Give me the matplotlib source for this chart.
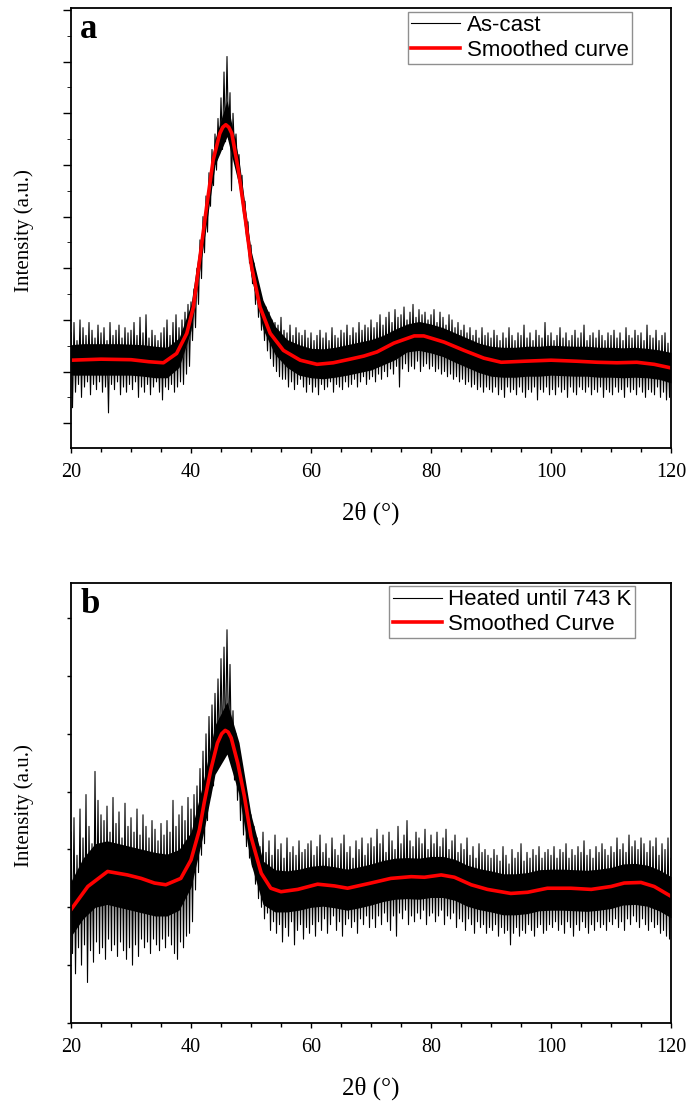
import numpy as np
import matplotlib.pyplot as plt
from matplotlib.ticker import MultipleLocator

plt.rcParams["font.family"] = ["Liberation Serif", "DejaVu Serif"]

# 2theta grids (deg): spike tops every 0.5 deg, spike bottoms a quarter degree later,
# dense core band every 2 degrees
grid_top = np.arange(20, 120.01, 0.5)
grid_bot = grid_top + 0.25
grid_core = np.arange(20, 121, 2.0)

# ---- (a) as-cast ----
tops_a = [
    1.75, 1.95, 1.6, 2.0, 1.85, 1.7, 1.95, 1.8, 1.65, 1.9, 1.75, 1.85, 1.6, 1.95, 1.7, 1.8, 1.9, 1.65, 1.85, 1.75,
    1.8, 1.95, 1.7, 2.05, 1.75, 2.1, 1.65, 1.8, 1.7, 1.6, 1.75, 1.85, 2.0, 1.7, 1.95, 2.1, 1.85, 2.0, 2.15, 2.3,
    2.35, 2.6, 3.0, 3.55, 4.0, 4.4, 4.85, 5.3, 5.6, 5.9, 6.3, 6.8, 7.1, 6.4, 6.0, 5.6, 5.2, 4.8, 4.3, 3.9,
    3.45, 3.1, 2.8, 2.55, 2.35, 2.25, 2.15, 2.0, 1.95, 1.9, 2.05, 1.8, 1.75, 1.9, 1.7, 1.85, 1.75, 1.7, 1.8, 1.65,
    1.75, 1.6, 1.7, 1.8, 1.65, 1.75, 1.6, 1.85, 1.7, 1.65, 1.8, 1.75, 1.9, 1.7, 1.85, 1.75, 1.95, 1.8, 1.9, 1.85,
    2.0, 1.85, 1.95, 2.1, 1.9, 2.05, 2.15, 1.95, 2.2, 2.05, 2.1, 2.25, 2.0, 2.15, 2.3, 2.05, 2.2, 2.1, 2.15, 2.0,
    2.1, 2.2, 1.95, 2.15, 2.05, 1.9, 2.1, 2.0, 1.85, 1.95, 1.8, 1.9, 1.75, 1.85, 1.7, 1.8, 1.65, 1.85, 1.7, 1.75,
    1.65, 1.8, 1.7, 1.6, 1.75, 1.65, 1.85, 1.7, 1.6, 1.75, 1.7, 1.9, 1.65, 1.75, 1.6, 1.8, 1.7, 1.65, 1.95, 1.7,
    1.75, 1.6, 1.7, 1.85, 1.65, 1.75, 1.6, 1.7, 1.8, 1.65, 1.75, 1.9, 1.6, 1.7, 1.75, 1.65, 1.8, 1.7, 1.6, 1.75,
    1.7, 1.8, 1.65, 1.75, 1.6, 1.85, 1.7, 1.65, 1.8, 1.7, 1.75, 1.6, 1.9, 1.7, 1.65, 1.8, 1.6, 1.7, 1.75, 1.55,
    1.6,
]
bots_a = [
    0.3, 0.6, 0.75, 0.5, 0.7, 0.8, 0.55, 0.75, 0.65, 0.8, 0.6, 0.7, 0.2, 0.75, 0.65, 0.8, 0.55, 0.7, 0.6, 0.75,
    0.65, 0.8, 0.5, 0.7, 0.6, 0.75, 0.55, 0.7, 0.8, 0.6, 0.45, 0.7, 0.65, 0.75, 0.6, 0.7, 0.8, 0.75, 0.95, 1.1,
    1.6, 1.85, 2.3, 2.8, 3.3, 3.7, 4.2, 4.6, 4.9, 5.2, 5.3, 5.45, 5.5, 4.5, 5.25, 4.95, 4.5, 4.05, 3.6, 3.1,
    2.7, 2.3, 2.05, 1.8, 1.6, 1.4, 1.25, 1.1, 1.0, 0.9, 0.85, 0.85, 0.7, 0.8, 0.65, 0.75, 0.85, 0.7, 0.6, 0.75,
    0.6, 0.7, 0.55, 0.75, 0.65, 0.7, 0.8, 0.6, 0.75, 0.7, 0.65, 0.8, 0.7, 0.75, 0.85, 0.7, 0.8, 0.9, 0.75, 0.85,
    0.9, 0.8, 0.95, 0.85, 1.0, 0.9, 1.05, 0.95, 1.1, 0.7, 1.05, 1.15, 1.0, 1.1, 1.05, 1.2, 1.0, 1.1, 1.15, 1.05,
    1.1, 1.0, 1.05, 0.95, 1.0, 0.9, 0.95, 0.85, 0.9, 0.8, 0.85, 0.75, 0.8, 0.7, 0.75, 0.65, 0.7, 0.6, 0.7, 0.65,
    0.6, 0.7, 0.55, 0.65, 0.5, 0.7, 0.6, 0.65, 0.55, 0.7, 0.6, 0.5, 0.65, 0.6, 0.7, 0.45, 0.65, 0.6, 0.7, 0.55,
    0.65, 0.55, 0.7, 0.6, 0.65, 0.5, 0.7, 0.6, 0.55, 0.7, 0.65, 0.6, 0.7, 0.55, 0.65, 0.6, 0.7, 0.5, 0.65, 0.6,
    0.55, 0.7, 0.6, 0.65, 0.5, 0.7, 0.6, 0.65, 0.55, 0.7, 0.6, 0.5, 0.65, 0.6, 0.55, 0.7, 0.5, 0.6, 0.45, 0.5,
    0.55,
]
core_top_a = [
    1.52, 1.54, 1.54, 1.54, 1.54, 1.53, 1.52, 1.49, 1.47, 1.65,
    2.3, 3.9, 5.5, 6.25, 5.1, 3.35, 2.38, 1.88, 1.62, 1.52,
    1.45, 1.44, 1.47, 1.52, 1.57, 1.62, 1.7, 1.82, 1.92, 1.97,
    1.92, 1.85, 1.75, 1.65, 1.55, 1.49, 1.47, 1.47, 1.49, 1.49,
    1.51, 1.5, 1.49, 1.49, 1.47, 1.47, 1.46, 1.47, 1.45, 1.42,
    1.37,
]
core_bot_a = [
    0.93, 0.93, 0.93, 0.93, 0.93, 0.93, 0.91, 0.88, 0.88, 1.08,
    1.8, 3.4, 5.0, 5.55, 4.6, 2.85, 1.82, 1.33, 1.08, 0.93,
    0.88, 0.86, 0.89, 0.93, 0.98, 1.03, 1.13, 1.23, 1.38, 1.41,
    1.36, 1.29, 1.18, 1.08, 0.98, 0.91, 0.89, 0.89, 0.91, 0.91,
    0.93, 0.92, 0.91, 0.91, 0.89, 0.89, 0.88, 0.89, 0.88, 0.85,
    0.78,
]
smooth_x_a = [20, 25, 30, 33, 35.4, 37.6, 39.3, 40.4, 41.5, 42.6, 43.7, 44.8, 45.3,
              45.8, 46.3, 46.8, 47.9, 49.0, 50.1, 51.5, 53.2, 55.4, 58.2, 61, 63.7,
              66.5, 68.8, 71, 73.8, 77.2, 78.8, 82.2, 85.5, 88.8, 91.7, 95.5, 100,
              104.3, 107.7, 111, 114.3, 117.2, 120]
smooth_a = [1.22, 1.24, 1.23, 1.19, 1.17, 1.35, 1.74, 2.25, 3.22, 4.19, 5.10, 5.61, 5.73,
            5.78, 5.73, 5.61, 4.90, 4.00, 3.03, 2.25, 1.74, 1.41, 1.22, 1.14, 1.17,
            1.24, 1.30, 1.38, 1.55, 1.69, 1.69, 1.57, 1.41, 1.26, 1.18, 1.20, 1.22,
            1.20, 1.18, 1.17, 1.18, 1.14, 1.07]

# ---- (b) heated until 743 K ----
tops_b = [
    3.3, 3.55, 2.9, 3.7, 3.2, 3.95, 3.4, 3.1, 4.35, 3.85, 3.6, 3.5, 3.75, 3.3, 3.9, 3.45, 3.65, 3.2, 3.8, 3.4,
    3.55, 3.3, 3.7, 3.25, 3.6, 3.4, 3.2, 3.5, 3.35, 3.15, 3.45, 3.25, 3.5, 3.3, 3.85, 3.4, 3.6, 3.75, 3.5, 3.9,
    3.7, 3.95, 4.1, 4.4, 4.7, 5.0, 5.3, 5.5, 5.7, 5.95, 6.3, 6.5, 6.8, 6.2, 5.4, 5.0, 4.6, 4.3, 4.05, 3.85,
    3.6, 3.4, 3.2, 3.05, 3.3, 2.95, 3.15, 2.9, 3.25, 3.0, 3.1, 2.85, 3.2, 2.95, 3.05, 2.9, 3.15, 2.95, 3.0, 3.1,
    3.15, 2.9, 3.05, 3.25, 2.95, 3.1, 2.85, 3.2, 3.0, 2.9, 3.1, 3.25, 2.95, 3.05, 2.85, 3.15, 3.0, 3.2, 2.9, 3.1,
    3.2, 3.05, 3.35, 3.1, 3.25, 2.95, 3.3, 3.15, 3.0, 3.4, 3.1, 3.25, 3.5, 3.15, 3.05, 3.3, 3.2, 3.1, 3.35, 3.0,
    3.25, 3.1, 3.3, 3.05, 3.2, 3.35, 3.0, 3.15, 3.25, 2.95, 3.1, 3.0, 3.2, 2.9, 3.05, 2.85, 3.1, 2.95, 3.0, 2.9,
    2.85, 3.0, 2.9, 2.8, 3.05, 2.9, 2.75, 3.0, 2.85, 2.95, 3.1, 2.8, 2.95, 2.85, 3.0, 2.9, 3.05, 2.85, 2.95, 3.0,
    2.9, 3.05, 2.85, 3.0, 2.95, 3.1, 2.85, 3.0, 2.9, 3.05, 2.95, 3.15, 2.9, 3.0, 2.85, 3.05, 2.95, 3.1, 3.0, 2.9,
    3.05, 2.95, 3.2, 3.0, 3.1, 2.95, 3.25, 3.05, 3.15, 3.0, 3.2, 3.1, 2.95, 3.15, 3.05, 3.2, 2.9, 3.1, 3.0, 3.2,
    2.85,
]
bots_b = [
    1.2, 0.85, 1.3, 1.0, 1.35, 0.7, 1.25, 1.05, 1.4, 1.2, 1.3, 1.1, 1.45, 1.25, 1.35, 1.15, 1.4, 1.25, 1.1, 1.3,
    1.0, 1.35, 1.15, 1.45, 1.3, 1.4, 1.2, 1.45, 1.35, 1.25, 1.45, 1.3, 1.5, 1.35, 1.2, 1.1, 1.4, 1.3, 1.5, 1.55,
    1.75, 2.3, 2.6, 2.9, 3.1, 3.5, 3.9, 4.1, 4.4, 4.6, 4.7, 4.75, 4.8, 4.55, 4.2, 3.85, 3.5, 3.25, 3.05, 2.85,
    2.7, 2.4, 2.15, 2.0, 1.8, 1.9, 1.6, 1.75, 1.55, 1.7, 1.4, 1.65, 1.5, 1.75, 1.35, 1.6, 1.7, 1.45, 1.65, 1.55,
    1.7, 1.5, 1.75, 1.6, 1.8, 1.55, 1.7, 1.85, 1.6, 1.75, 1.5, 1.7, 1.8, 1.65, 1.75, 1.55, 1.8, 1.7, 1.85, 1.65,
    1.8, 1.65, 1.85, 1.7, 1.9, 1.75, 1.6, 1.85, 1.5, 1.9, 1.8, 1.95, 1.7, 1.85, 1.75, 1.9, 1.8, 1.95, 1.7, 1.85,
    1.9, 1.75, 1.85, 1.95, 1.7, 1.85, 1.8, 1.9, 1.65, 1.8, 1.75, 1.6, 1.8, 1.7, 1.55, 1.75, 1.65, 1.7, 1.55, 1.65,
    1.6, 1.7, 1.5, 1.65, 1.55, 1.6, 1.35, 1.55, 1.65, 1.5, 1.6, 1.55, 1.7, 1.6, 1.5, 1.65, 1.7, 1.55, 1.6, 1.7,
    1.65, 1.75, 1.6, 1.7, 1.55, 1.75, 1.65, 1.5, 1.7, 1.6, 1.75, 1.65, 1.55, 1.7, 1.6, 1.75, 1.65, 1.7, 1.6, 1.75,
    1.7, 1.8, 1.65, 1.75, 1.6, 1.8, 1.7, 1.85, 1.75, 1.65, 1.8, 1.7, 1.6, 1.75, 1.65, 1.7, 1.55, 1.6, 1.5, 1.45,
    1.4,
]
core_top_b = [
    2.45, 2.85, 3.1, 3.15, 3.1, 3.05, 3.0, 2.95, 2.92, 3.0,
    3.3, 4.15, 5.15, 5.55, 4.85, 3.6, 2.8, 2.65, 2.63, 2.66,
    2.71, 2.73, 2.7, 2.66, 2.7, 2.75, 2.81, 2.85, 2.86, 2.85,
    2.88, 2.88, 2.83, 2.73, 2.67, 2.63, 2.58, 2.58, 2.6, 2.65,
    2.66, 2.66, 2.65, 2.64, 2.66, 2.69, 2.75, 2.76, 2.73, 2.65,
    2.53,
]
core_bot_b = [
    1.5, 1.8, 2.0, 2.05, 2.0, 1.95, 1.9, 1.85, 1.85, 1.95,
    2.35, 3.25, 4.3, 4.65, 3.95, 2.75, 2.05, 1.92, 1.92, 1.95,
    2.0, 2.02, 1.99, 1.95, 1.99, 2.04, 2.1, 2.14, 2.15, 2.14,
    2.17, 2.17, 2.12, 2.02, 1.96, 1.92, 1.87, 1.87, 1.89, 1.94,
    1.95, 1.95, 1.94, 1.93, 1.95, 1.98, 2.04, 2.05, 2.02, 1.94,
    1.82,
]
smooth_x_b = [20, 22.8, 26.1, 29.4, 31.7, 33.9, 35.8, 38.3, 40, 41.4, 42.2, 43.3, 44.4,
              45.1, 45.7, 46.2, 46.7, 47.8, 48.9, 50, 51.7, 53.3, 55, 57.8, 61.1, 63.9,
              66.1, 70, 73.3, 76.7, 78.9, 81.7, 83.9, 86.7, 89.4, 93.3, 96.1, 99.4,
              103.3, 106.7, 110, 112.2, 115, 117.2, 120]
smooth_b = [1.96, 2.36, 2.62, 2.56, 2.50, 2.42, 2.39, 2.50, 2.82, 3.34, 3.81, 4.38, 4.84,
            5.0, 5.06, 5.03, 4.93, 4.49, 3.92, 3.22, 2.59, 2.33, 2.27, 2.31, 2.40, 2.37,
            2.33, 2.42, 2.50, 2.53, 2.52, 2.56, 2.52, 2.39, 2.31, 2.24, 2.26, 2.33,
            2.33, 2.31, 2.36, 2.42, 2.43, 2.36, 2.19]

fig = plt.figure(figsize=(6.88, 11.04), dpi=100)
ax_a = fig.add_axes([0.1032, 0.5942, 0.8721, 0.3986])
ax_b = fig.add_axes([0.1032, 0.0734, 0.8721, 0.3986])


def draw_panel(ax, tops, bots, core_top, core_bot, sx, sy, raw_label, smooth_label,
               letter, ylim, yminor, legend_anchor):
    # raw scan: zigzag between spike tops and spike bottoms
    trace_x = np.empty(len(tops) + len(bots))
    trace_y = np.empty_like(trace_x)
    trace_x[0::2], trace_x[1::2] = grid_top, grid_bot
    trace_y[0::2], trace_y[1::2] = tops, bots
    ax.fill_between(grid_core, core_bot, core_top, color="black", lw=0)
    ax.plot(trace_x, trace_y, color="black", lw=0.8, label=raw_label)
    ax.plot(sx, sy, color="#ff0000", lw=2.6, label=smooth_label)

    ax.set_xlim(20, 120)
    ax.set_ylim(*ylim)
    ax.xaxis.set_major_locator(MultipleLocator(20))
    ax.xaxis.set_minor_locator(MultipleLocator(5))
    ax.yaxis.set_major_locator(MultipleLocator(1))
    if yminor:
        ax.yaxis.set_minor_locator(MultipleLocator(yminor))
        ax.tick_params(axis="y", which="major", length=5.5)
    else:
        ax.tick_params(axis="y", which="major", length=3)
    ax.tick_params(axis="x", which="major", length=3.5, pad=7.5, labelsize=14.5)
    ax.tick_params(axis="x", which="minor", length=2.8)
    ax.tick_params(axis="y", which="minor", length=3)
    ax.tick_params(axis="y", labelleft=False, width=1)
    ax.tick_params(axis="x", which="both", width=1)
    for s in ax.spines.values():
        s.set_linewidth(1.3)

    ax.set_xlabel("2θ (°)", fontsize=18, va="center")
    ax.xaxis.set_label_coords(0.5, -0.148)
    ax.set_ylabel("Intensity (a.u.)", fontsize=15, va="center")
    ax.yaxis.set_label_coords(-0.078, 0.495)
    ax.text(0.015, 0.932, letter, transform=ax.transAxes, fontsize=25,
            fontweight="bold", ha="left", va="baseline")

    leg = ax.legend(loc="upper right", bbox_to_anchor=legend_anchor, borderaxespad=0,
                    prop={"family": "Liberation Sans", "size": 16}, frameon=True,
                    fancybox=False, edgecolor="0.45", handlelength=2.2,
                    handletextpad=0.3, labelspacing=0.15, borderpad=0.15)
    leg.get_frame().set_linewidth(1.0)
    leg.legend_handles[0].set_linewidth(0.8)


draw_panel(ax_a, tops_a, bots_a, core_top_a, core_bot_a, smooth_x_a, smooth_a,
           "As-cast", "Smoothed curve", "a", (-0.48, 8.04), 0.5, (0.935, 0.991))
draw_panel(ax_b, tops_b, bots_b, core_top_b, core_bot_b, smooth_x_b, smooth_b,
           "Heated until 743 K", "Smoothed Curve", "b", (0, 7.61), None, (0.94, 0.993))

fig.savefig("out.png", dpi=100)
